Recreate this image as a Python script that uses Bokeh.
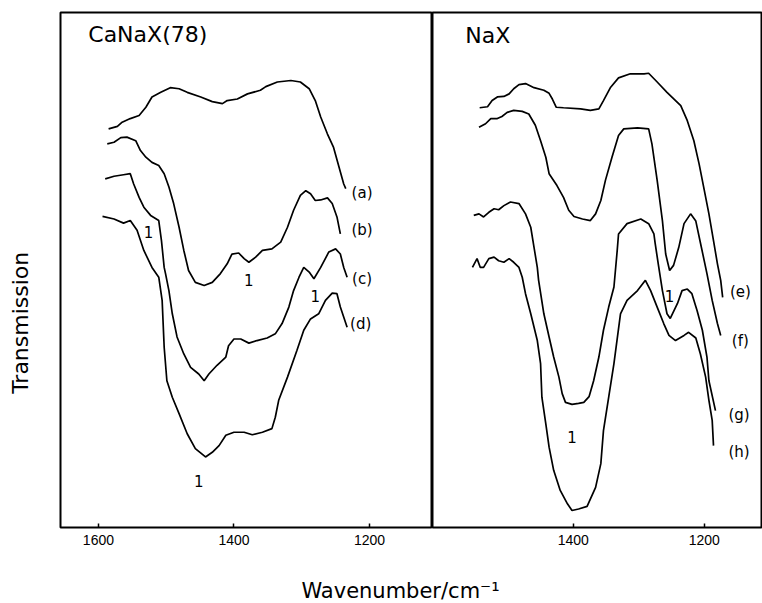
import math
from bokeh.plotting import figure
from bokeh.models import Range1d, FixedTicker, Label
from bokeh.layouts import column, row
from bokeh.embed import file_html
from bokeh.resources import INLINE
from bokeh.core.properties import value

# ---------------- data (wavenumber / cm-1, transmission in arbitrary units) ----------------
# CaNaX(78) panel
a_wn = [1585,1572,1565,1553,1540,1530,1521,1508,1494,1481,1469,1449,1432,1417,1410,1395,1380,1361,1353,1336,1316,1302,1289,1280,1272,1262,1253,1245,1238,1235]
a_t = [77.4,77.9,78.7,79.4,80.0,81.6,83.6,84.5,85.4,85.2,84.5,83.6,82.7,82.3,82.9,83.2,84.2,84.9,85.6,86.5,86.8,86.5,85.2,82.9,79.7,76.4,73.8,70.0,66.7,65.8]

b_wn = [1587,1577,1567,1558,1545,1538,1530,1521,1511,1503,1496,1489,1481,1474,1467,1457,1444,1432,1420,1410,1403,1393,1385,1378,1368,1358,1344,1331,1321,1312,1302,1294,1287,1280,1272,1262,1255,1248,1243]
b_t = [74.5,74.8,75.7,75.8,75.1,73.2,71.9,70.9,70.3,68.7,66.1,62.9,58.3,53.8,49.9,47.6,47.0,47.6,49.3,51.2,53.1,53.3,52.2,51.5,52.5,53.8,54.1,55.4,58.3,61.6,64.5,65.4,64.8,63.5,63.6,64.0,62.9,60.3,57.0]

c_wn = [1590,1577,1563,1553,1548,1540,1533,1523,1511,1507,1503,1501,1496,1491,1484,1474,1464,1452,1444,1437,1425,1412,1408,1400,1390,1378,1366,1351,1339,1329,1319,1312,1304,1297,1289,1282,1272,1260,1250,1243,1238,1233]
c_t = [67.7,68.2,68.5,68.7,66.7,64.1,62.2,60.6,59.6,55.7,50.5,49.3,46.0,41.5,37.0,33.7,31.1,29.8,28.5,29.8,31.5,33.1,35.3,36.6,36.6,35.8,36.3,36.8,37.6,39.6,42.8,46.0,48.6,50.5,49.6,48.3,50.5,53.5,54.1,53.1,50.5,48.6]

d_wn = [1594,1577,1563,1553,1543,1533,1521,1511,1506,1503,1499,1491,1481,1469,1457,1442,1432,1422,1412,1400,1385,1373,1358,1344,1339,1334,1321,1307,1297,1287,1275,1265,1255,1248,1243,1233]
d_t = [60.4,59.9,59.1,59.6,57.7,53.8,50.5,48.6,44.1,35.0,28.5,25.3,22.1,18.2,15.3,13.7,14.6,15.9,17.9,18.5,18.5,18.0,18.5,19.2,21.4,24.7,29.2,34.4,38.3,40.5,41.5,44.1,45.5,45.4,42.8,38.9]

# NaX panel
e_wn = [1543,1531,1524,1516,1506,1498,1491,1483,1473,1460,1445,1437,1432,1426,1415,1389,1374,1361,1354,1343,1331,1313,1292,1285,1272,1257,1236,1226,1216,1208,1201,1193,1186,1180,1175,1172]
e_t = [81.5,81.7,82.9,83.6,83.7,84.2,85.2,86.0,86.2,85.4,84.9,84.3,83.2,81.6,81.5,81.3,81.0,81.3,82.9,85.5,87.3,88.1,88.1,88.2,86.5,84.5,81.9,79.0,75.1,70.6,66.1,60.9,55.7,51.2,48.0,44.7]

f_wn = [1544,1534,1526,1516,1509,1501,1491,1478,1468,1458,1450,1442,1437,1425,1415,1407,1399,1386,1374,1366,1358,1351,1341,1331,1323,1302,1285,1280,1272,1264,1259,1253,1247,1239,1231,1221,1213,1206,1196,1188,1180,1175]
f_t = [77.7,78.4,79.4,79.4,79.8,80.6,81.0,80.8,80.3,78.1,75.1,71.9,68.7,66.4,64.1,61.6,60.4,59.9,59.6,60.9,63.5,67.4,71.9,76.1,77.4,77.6,77.4,74.5,67.4,59.6,53.1,49.9,50.9,54.4,59.0,60.9,59.5,55.3,49.3,44.1,39.6,37.3]

g_wn = [1552,1544,1537,1529,1521,1514,1506,1496,1483,1473,1465,1460,1455,1453,1445,1437,1430,1422,1417,1412,1402,1392,1384,1376,1369,1361,1354,1346,1338,1333,1331,1318,1297,1285,1277,1275,1270,1264,1257,1252,1241,1234,1226,1219,1211,1203,1196,1193,1183]
g_t = [60.6,60.9,60.3,61.2,61.9,61.7,62.5,63.2,62.9,60.9,58.3,54.4,50.5,48.0,41.5,37.0,33.1,29.2,26.0,24.3,23.9,24.1,24.3,25.4,28.5,33.1,38.3,42.8,46.7,53.8,57.0,59.0,59.9,59.0,57.0,55.1,50.9,46.0,41.5,40.6,43.5,46.0,46.3,45.4,42.1,38.3,33.1,28.5,22.7]

h_wn = [1554,1547,1542,1537,1529,1521,1514,1506,1498,1491,1483,1478,1473,1465,1455,1450,1448,1442,1437,1430,1420,1409,1402,1392,1379,1366,1358,1354,1346,1338,1328,1318,1302,1290,1282,1272,1262,1254,1244,1231,1224,1213,1206,1198,1193,1188,1186]
h_t = [50.5,52.2,50.5,50.5,52.2,52.5,51.8,51.5,52.2,51.5,50.5,48.6,45.4,41.5,36.3,31.8,25.3,20.1,15.6,11.1,7.2,4.6,3.3,3.6,4.1,7.8,12.4,18.8,25.3,31.8,41.5,44.1,46.0,48.0,46.0,42.8,39.6,37.3,36.3,37.3,37.9,36.8,33.7,29.2,24.7,20.8,15.9]

# curve tags and band markers
left_tags = ["(a)", "(b)", "(c)", "(d)"]
left_tag_wn = [1211, 1211, 1211, 1213]
left_tag_t = [64.9, 57.7, 48.3, 39.6]
left_mark_wn = [1526, 1378, 1280, 1452]
left_mark_t = [57.3, 48.0, 45.0, 9.1]

right_tags = ["(e)", "(f)", "(g)", "(h)"]
right_tag_wn = [1145, 1145, 1147, 1147]
right_tag_t = [45.8, 36.3, 21.9, 14.6]
right_mark_wn = [1253, 1402]
right_mark_t = [45.0, 17.5]

left_ticks = [1600, 1400, 1200]
right_ticks = [1400, 1200]

left_title = "CaNaX(78)"
right_title = "NaX"
y_label = "Transmission"
x_label = "Wavenumber/cm\u207b\u00b9"

FONT = "DejaVu Sans"
TICK_FONT = "Liberation Sans"
PANEL_H = 551


def make_panel(width, border_left, xr, ticks):
    p = figure(width=width, height=PANEL_H, x_range=xr, y_range=Range1d(0, 100),
               output_backend="svg", toolbar_location=None,
               min_border_left=border_left, min_border_right=0,
               min_border_top=12, min_border_bottom=24)
    p.yaxis.visible = False
    p.grid.visible = False
    p.outline_line_color = "black"
    p.outline_line_width = 2
    p.background_fill_color = "white"
    p.border_fill_color = "white"
    ax = p.xaxis[0]
    ax.ticker = FixedTicker(ticks=ticks)
    ax.axis_line_color = None
    ax.major_tick_in = 4
    ax.major_tick_out = 0
    ax.major_tick_line_color = "black"
    ax.major_tick_line_width = 1.5
    ax.minor_tick_line_color = None
    ax.major_label_standoff = 7
    ax.major_label_text_font = TICK_FONT
    ax.major_label_text_font_size = "14px"
    ax.major_label_text_color = "black"
    return p


def text_strip(width, height):
    s = figure(width=width, height=height, x_range=Range1d(0, width), y_range=Range1d(0, height),
               x_axis_type=None, y_axis_type=None, output_backend="svg",
               toolbar_location=None, min_border=0)
    s.grid.visible = False
    s.outline_line_color = None
    return s


pl = make_panel(392, 20, Range1d(1656, 1107), left_ticks)
pr = make_panel(330, 0, Range1d(1615, 1111.2), right_ticks)

for wn, t in [(a_wn, a_t), (b_wn, b_t), (c_wn, c_t), (d_wn, d_t)]:
    pl.line(wn, t, line_color="black", line_width=1.7)
for wn, t in [(e_wn, e_t), (f_wn, f_t), (g_wn, g_t), (h_wn, h_t)]:
    pr.line(wn, t, line_color="black", line_width=1.7)

for p, xs, ys, txt in [(pl, left_tag_wn, left_tag_t, left_tags),
                       (pl, left_mark_wn, left_mark_t, ["1"] * len(left_mark_wn)),
                       (pr, right_tag_wn, right_tag_t, right_tags),
                       (pr, right_mark_wn, right_mark_t, ["1"] * len(right_mark_wn))]:
    p.text(x=xs, y=ys, text=txt, text_font=value(FONT), text_font_size="15px",
           text_align="center", text_baseline="middle", text_color="black")

pl.add_layout(Label(x=1615, y=95.7, text=left_title, text_font=FONT, text_font_size="22px",
                    text_align="left", text_baseline="middle", text_color="black"))
pr.add_layout(Label(x=1565, y=95.5, text=right_title, text_font=FONT, text_font_size="22px",
                    text_align="left", text_baseline="middle", text_color="black"))

# vertical axis title strip (left) and horizontal axis title strip (bottom)
ylab = text_strip(40, PANEL_H)
ylab.add_layout(Label(x=20, y=PANEL_H - 332, text=y_label, angle=math.pi / 2, text_font=FONT,
                      text_font_size="22px", text_align="center", text_baseline="middle",
                      text_color="black"))

xlab = text_strip(762, 52)
xlab.add_layout(Label(x=400, y=13, text=x_label, text_font=FONT, text_font_size="21px",
                      text_align="center", text_baseline="middle", text_color="black"))

layout = column(row(ylab, pl, pr, spacing=0), xlab, spacing=0)
open("out.html", "w").write(file_html(layout, INLINE))
